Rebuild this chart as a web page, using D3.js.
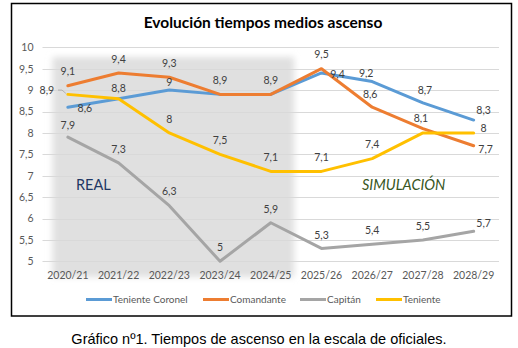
<!DOCTYPE html>
<html>
<head>
<meta charset="utf-8">
<script src="https://cdn.jsdelivr.net/npm/d3@7"></script>
<style>
  body { margin: 0; background: #fff; }
  svg { display: block; }
</style>
</head>
<body>
<div id="chart"></div>
<script>
// categories and series
var years = ["2020/21", "2021/22", "2022/23", "2023/24", "2024/25", "2025/26", "2026/27", "2027/28", "2028/29"];
var tenienteCoronel = [8.6, 8.8, 9.0, 8.9, 8.9, 9.4, 9.2, 8.7, 8.3];
var comandante = [9.1, 9.4, 9.3, 8.9, 8.9, 9.5, 8.6, 8.1, 7.7];
var capitan = [7.9, 7.3, 6.3, 5.0, 5.9, 5.3, 5.4, 5.5, 5.7];
var teniente = [8.9, 8.8, 8.0, 7.5, 7.1, 7.1, 7.4, 8.0, 8.0];
var yTicks = [5, 5.5, 6, 6.5, 7, 7.5, 8, 8.5, 9, 9.5, 10];

var series = [
  { name: "Teniente Coronel", values: tenienteCoronel, color: "#5B9BD5" },
  { name: "Comandante", values: comandante, color: "#ED7D31" },
  { name: "Capitán", values: capitan, color: "#A5A5A5" },
  { name: "Teniente", values: teniente, color: "#FFC000" }
];

// where each data label sits relative to its point (null = no label)
var labelOffsets = [
  [[17, 1], [0, -10], [0, -8], null, null, [16, 1], [-6, -8], [2, -13], [10, -10]],
  [[0, -14], [0, -14], [0, -14], [0, -14], [0, -14], [0, -14], [-2, -13], [-2, -10], [12, 4]],
  [[0, -12], [0, -14], [0, -14], [0, -14], [0, -13], [0, -13], [0, -14], [0, -14], [10, -8]],
  [[-21, -4], null, [0, -14], [0, -14], [0, -14], [0, -14], [0, -14], null, [10, -5]]
];

var W = 518, H = 348;
var font = "Lato, 'Open Sans', sans-serif";

var es = d3.formatLocale({ decimal: ",", thousands: ".", grouping: [3], currency: ["", "€"] });
var fmt = es.format(".1~f");

var svg = d3.select("#chart").append("svg")
  .attr("width", W)
  .attr("height", H);

var defs = svg.append("defs");
defs.append("filter").attr("id", "soft")
  .attr("x", "-10%").attr("y", "-10%").attr("width", "120%").attr("height", "120%")
  .append("feGaussianBlur").attr("stdDeviation", 3);

// frame
svg.append("rect")
  .attr("x", 11.5).attr("y", 3.5)
  .attr("width", 500).attr("height", 312.5)
  .attr("fill", "#fff")
  .attr("stroke", "#000")
  .attr("stroke-width", 1.5);

var x = d3.scaleBand().domain(years).range([42.5, 499]);
var y = d3.scaleLinear().domain([5, 10]).range([261.3, 47.3]);
var cx = function(i) { return x(years[i]) + x.bandwidth() / 2; };

// shaded "real" period
svg.append("rect")
  .attr("x", x(years[0]) + 10).attr("y", 57)
  .attr("width", x(years[4]) + x.bandwidth() - x(years[0]) - 12)
  .attr("height", 220)
  .attr("fill", "#e0e0e0")
  .attr("filter", "url(#soft)");

// gridlines
svg.append("g").selectAll("line")
  .data(yTicks)
  .join("line")
  .attr("x1", 42.5).attr("x2", 499)
  .attr("y1", d => Math.round(y(d)) + 0.5)
  .attr("y2", d => Math.round(y(d)) + 0.5)
  .attr("stroke", "#d9d9d9")
  .attr("stroke-width", 1);

// axes
var yAxis = svg.append("g")
  .attr("transform", "translate(42.5,0)")
  .call(d3.axisLeft(y).tickValues(yTicks).tickFormat(fmt).tickSize(0).tickPadding(9));
yAxis.select(".domain").remove();
yAxis.selectAll("text")
  .attr("fill", "#595959")
  .style("font-family", font)
  .style("font-size", "10.5px");

var xAxis = svg.append("g")
  .attr("transform", "translate(0,261.3)")
  .call(d3.axisBottom(x).tickSize(0).tickPadding(10));
xAxis.select(".domain").remove();
xAxis.selectAll("text")
  .attr("fill", "#595959")
  .style("font-family", font)
  .style("font-size", "10.5px");

// lines
var line = d3.line()
  .x((d, i) => cx(i))
  .y(d => y(d));

svg.append("g").selectAll("path")
  .data(series)
  .join("path")
  .attr("d", d => line(d.values))
  .attr("fill", "none")
  .attr("stroke", d => d.color)
  .attr("stroke-width", 3)
  .attr("stroke-linejoin", "round")
  .attr("stroke-linecap", "round");

// leader line for the displaced 8,9 label
svg.append("polyline")
  .attr("points", [[58, y(9)], [62, y(9)], [cx(0) - 2, y(teniente[0]) - 1]].join(" "))
  .attr("fill", "none")
  .attr("stroke", "#a6a6a6")
  .attr("stroke-width", 0.8);

// data labels
var labels = svg.append("g")
  .style("font-family", font)
  .style("font-size", "10.5px")
  .attr("fill", "#404040")
  .attr("text-anchor", "middle");

series.forEach(function(s, si) {
  s.values.forEach(function(v, i) {
    var off = labelOffsets[si][i];
    if (!off) return;
    labels.append("text")
      .attr("x", cx(i) + off[0])
      .attr("y", y(v) + off[1])
      .attr("dy", "0.35em")
      .text(fmt(v));
  });
});

// title
svg.append("text")
  .attr("x", 263).attr("y", 28)
  .attr("text-anchor", "middle")
  .style("font-family", font)
  .style("font-size", "15.5px")
  .style("font-weight", "bold")
  .attr("fill", "#000")
  .text("Evolución tiempos medios ascenso");

// period labels
svg.append("text")
  .attr("x", 76).attr("y", 190)
  .style("font-family", font)
  .style("font-size", "14.5px")
  .attr("fill", "#1F3864")
  .text("REAL");

svg.append("text")
  .attr("x", 362).attr("y", 190)
  .style("font-family", font)
  .style("font-size", "14.5px")
  .style("font-style", "italic")
  .attr("fill", "#375623")
  .text("SIMULACIÓN");

// legend
var legendX = [86, 203, 300, 376];
var legend = svg.append("g")
  .style("font-family", font)
  .style("font-size", "10px");

series.forEach(function(s, i) {
  var g = legend.append("g").attr("transform", "translate(" + legendX[i] + ",299.5)");
  g.append("line")
    .attr("x1", 0).attr("x2", 26)
    .attr("stroke", s.color)
    .attr("stroke-width", 3);
  g.append("text")
    .attr("x", 27)
    .attr("dy", "0.35em")
    .attr("fill", "#595959")
    .text(s.name);
});

// caption
svg.append("text")
  .attr("x", 259).attr("y", 344)
  .attr("text-anchor", "middle")
  .style("font-family", "'Liberation Sans', Arial, sans-serif")
  .style("font-size", "14.5px")
  .attr("fill", "#000")
  .text("Gráfico nº1. Tiempos de ascenso en la escala de oficiales.");
</script>
</body>
</html>
